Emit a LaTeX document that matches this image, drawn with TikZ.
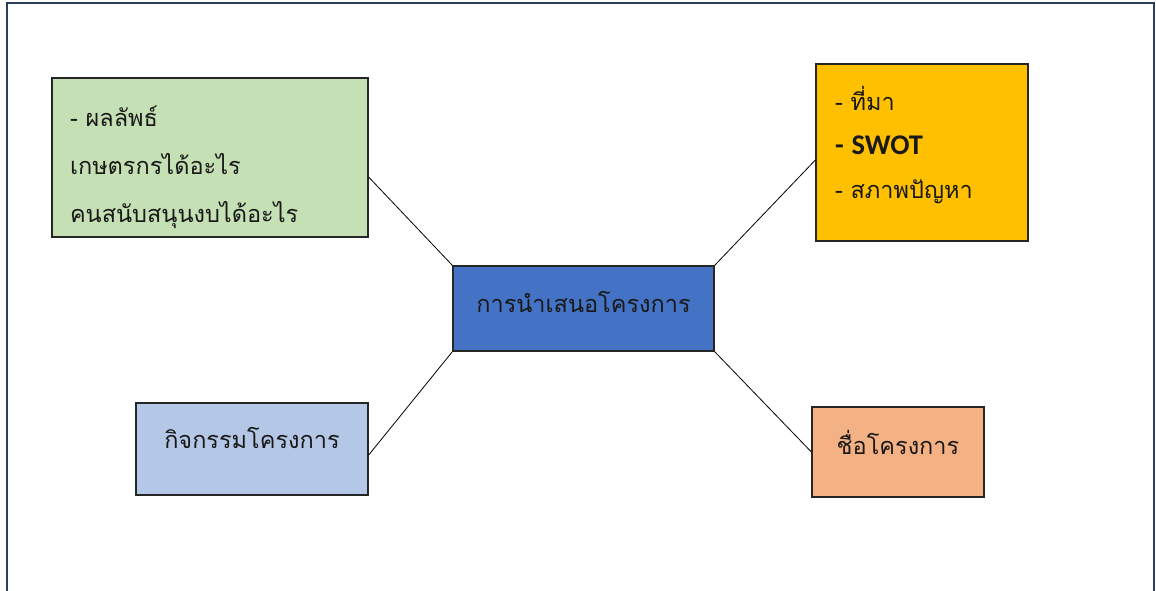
\documentclass[tikz,border=0pt]{standalone}
\usepackage{fontspec}
\newfontfamily\thaifont[Script=Thai]{Loma}
\newfontfamily\latinfont{Carlito}

\definecolor{framecol}{RGB}{44,62,96}
\definecolor{resultcol}{HTML}{C5E0B4}
\definecolor{origincol}{HTML}{FFC000}
\definecolor{activitycol}{HTML}{B4C7E7}
\definecolor{namecol}{HTML}{F4B183}
\definecolor{maincol}{HTML}{4472C4}

\tikzset{
  topic/.style={draw=black!85, line width=1.2pt, text=black!90, inner sep=0pt,
    font=\thaifont\fontsize{23.5}{48}\selectfont},
  link/.style={draw=black, line width=0.8pt},
}

\begin{document}
\begin{tikzpicture}[x=1pt,y=-1pt]
  \useasboundingbox (0,0) rectangle (1156,590);
  \draw[framecol, line width=2.5pt] (7,592) -- (7,3) -- (1154,3) -- (1154,592);

  \node[topic, fill=maincol, minimum width=261, minimum height=85, text depth=14pt] (main) at (583.5,308.5) {การนำเสนอโครงการ};

  \node[topic, fill=resultcol, minimum width=316, minimum height=159, text width=280, align=left] (result) at (210,157.5)
    {\rule{0pt}{40pt}- ผลลัพธ์\\เกษตรกรได้อะไร\\คนสนับสนุนงบได้อะไร};
  \node[topic, fill=origincol, minimum width=212, minimum height=177, text width=174, align=left,
    font=\thaifont\fontsize{23.5}{44}\selectfont] (origin) at (922,152.5)
    {- ที่มา\\{\latinfont\bfseries\fontsize{28.5}{44}\selectfont - SWOT}\\- สภาพปัญหา\rule[-20pt]{0pt}{0pt}};
  \node[topic, fill=activitycol, minimum width=232, minimum height=92, text depth=22pt] (activity) at (252,449) {กิจกรรมโครงการ};
  \node[topic, fill=namecol, minimum width=172, minimum height=90, text depth=20pt] (name) at (898,452) {ชื่อโครงการ};

  \draw[link] (result.-7.4) -- (main.north west);
  \draw[link] (origin.184) -- (main.north east);
  \draw[link] (activity.-3.9) -- (main.south west);
  \draw[link] (name.west) -- (main.south east);
\end{tikzpicture}
\end{document}
